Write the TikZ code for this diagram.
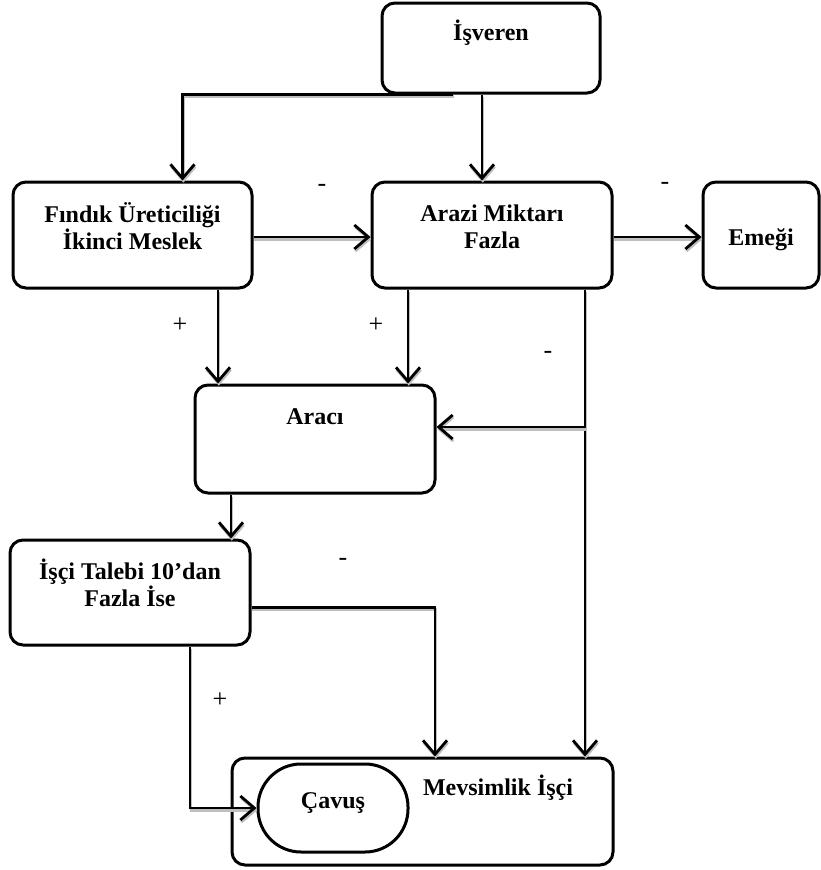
\documentclass[tikz,border=0pt]{standalone}
\usepackage{fontspec}
\setmainfont{Liberation Serif}
\usetikzlibrary{positioning}
\usetikzlibrary{arrows.meta}

\begin{document}
\begin{tikzpicture}
[x=1pt,y=-1pt,
 factor/.style={shape=rectangle,draw,line width=3pt,rounded corners=13pt,inner sep=0pt},
 factortext/.style={font=\fontsize{24}{27}\selectfont\bfseries,align=center},
 signlabel/.style={font=\fontsize{26}{28}\selectfont},
 link/.style={line width=2.8pt,-{Straight Barb[length=14pt,width=24pt]},
   preaction={draw=gray!50,line width=2.6pt,transform canvas={xshift=0.8pt,yshift=-2.2pt}}}]

\useasboundingbox (0,0) rectangle (821,870);

\node (isveren) [factor,minimum width=218pt,minimum height=90pt,
	label={[factortext,yshift=15pt]center:İşveren}] at (491,48) {};
\node (findik) [factor,minimum width=239pt,minimum height=106pt,
	label={[factortext,yshift=8.5pt]center:Fındık Üreticiliği\\İkinci Meslek}] at (132.5,235) {};
\node (arazi) [factor,minimum width=240pt,minimum height=106pt,
	label={[factortext,yshift=8.5pt]center:Arazi Miktarı\\Fazla}] at (492,235) {};
\node (emegi) [factor,minimum width=116pt,minimum height=106pt,
	label={[factortext,yshift=-5pt]center:Emeği}] at (761,235) {};
\node (araci) [factor,minimum width=240pt,minimum height=108pt,
	label={[factortext,yshift=22pt]center:Aracı}] at (315,439) {};
\node (talebi) [factor,minimum width=240pt,minimum height=105pt,
	label={[factortext,yshift=10pt]center:İşçi Talebi 10’dan\\Fazla İse}] at (130,592.5) {};
\node (mevsimlik) [factor,minimum width=381pt,minimum height=107pt,
	label={[factortext,xshift=75.5pt,yshift=23.5pt]center:Mevsimlik İşçi}] at (422.5,811.5) {};
\node (cavus) [factor,rounded corners=43pt,minimum width=150pt,minimum height=88pt,
	label={[factortext,yshift=5pt]center:Çavuş}] at (333,808) {};

\draw [link] ([xshift=-38pt]isveren.south) -| ([xshift=50pt]findik.north);
\draw [link] ([xshift=-9pt]isveren.south) -- ([xshift=-9pt]isveren.south |- arazi.north);
\draw [link] ([yshift=-2pt]findik.east) -- ([yshift=-2pt]arazi.west);
\draw [link] ([yshift=-2pt]arazi.east) -- ([yshift=-2pt]emegi.west);

\draw [link] ([xshift=85.5pt]findik.south) -- ([xshift=85.5pt]findik.south |- araci.north);
\draw [link] ([xshift=-84pt]arazi.south) -- ([xshift=-84pt]arazi.south |- araci.north);
\draw [link] ([xshift=93pt]arazi.south) -- ([xshift=93pt]arazi.south |- mevsimlik.north);
\coordinate (fork) at (585,427);
\draw [link] (fork) -- (fork -| araci.east);

\draw [link] ([xshift=-84pt]araci.south) -- ([xshift=-84pt]araci.south |- talebi.north);
\draw [link] ([yshift=-15pt]talebi.east) -| ([xshift=12.5pt]mevsimlik.north);
\draw [link] ([xshift=60pt]talebi.south) |- (cavus.west);

% signs
\node (s1) [signlabel] at (322,188) {-};
\node (s2) [signlabel] at (665,186) {-};
\node (s3) [signlabel] at (180,325) {+};
\node (s4) [signlabel] at (376,325) {+};
\node (s5) [signlabel] at (548,355) {-};
\node (s6) [signlabel] at (343,562) {-};
\node (s7) [signlabel] at (220,700) {+};
\end{tikzpicture}
\end{document}
